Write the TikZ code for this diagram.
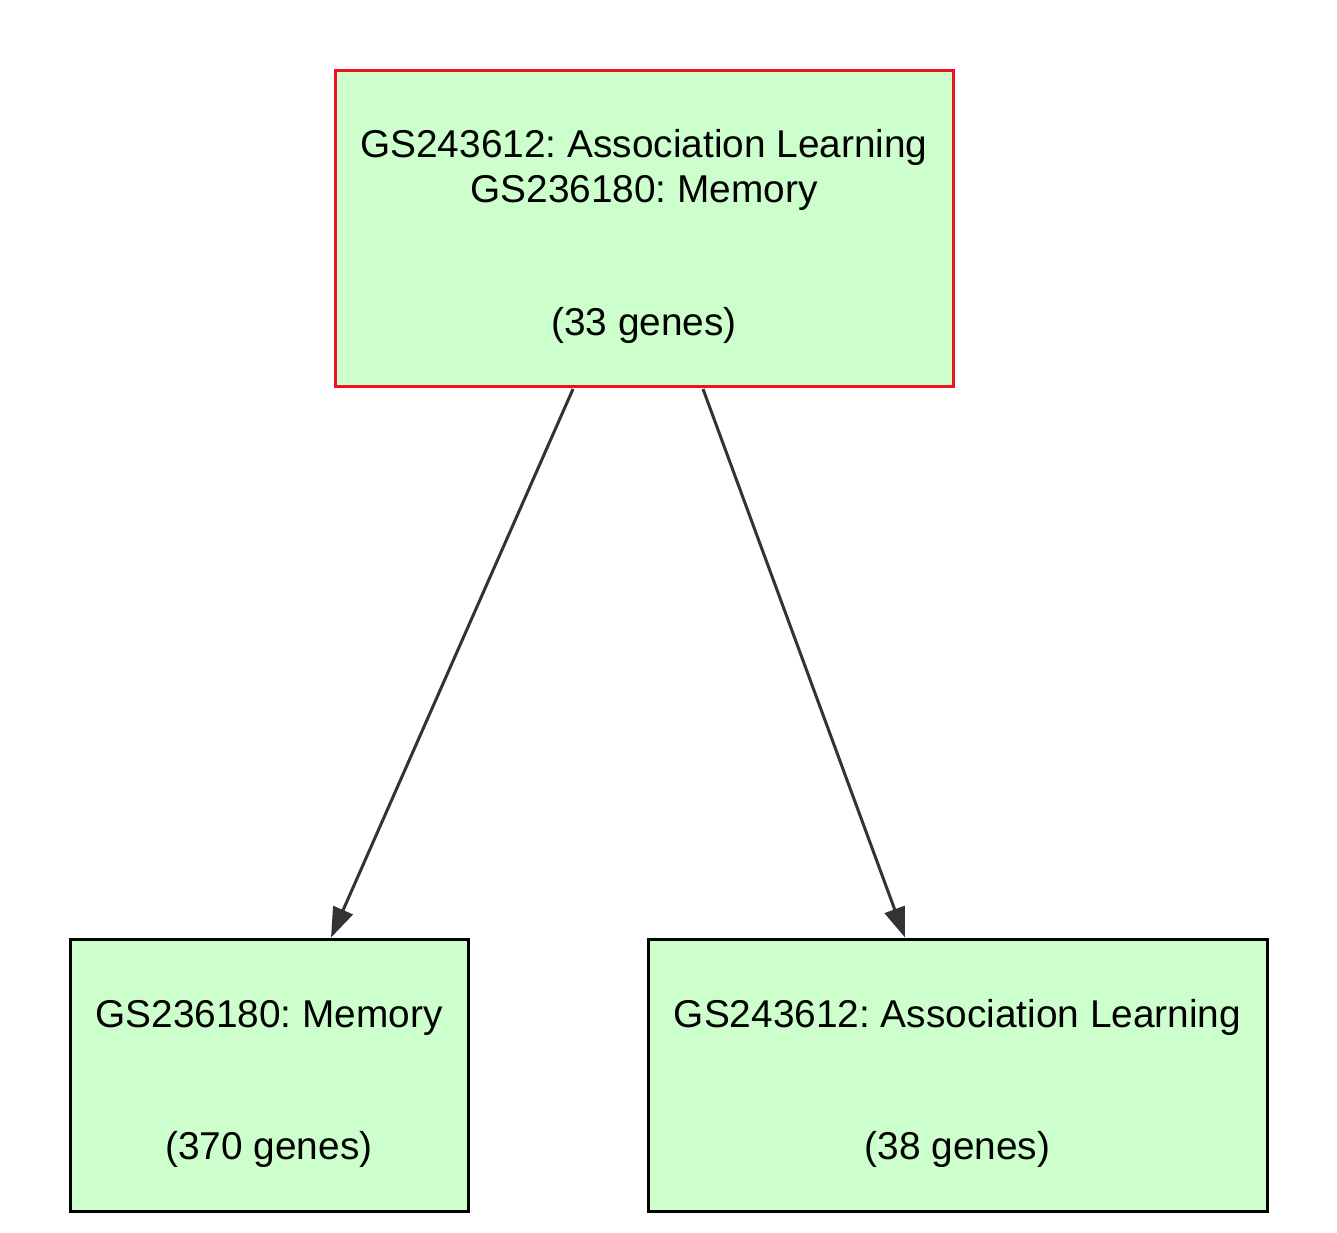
\documentclass[tikz,border=0pt]{standalone}
\usepackage{fontspec}
\setmainfont{Liberation Sans}
\usetikzlibrary{arrows.meta}
\definecolor{boxfill}{HTML}{CCFFCC}
\definecolor{boxred}{HTML}{F01020}
\definecolor{edgegray}{HTML}{333333}
\frenchspacing
\begin{document}
\begin{tikzpicture}[x=1pt,y=-1pt,
  gbox/.style={draw=black,fill=boxfill,line width=3pt,minimum width=#1,inner sep=0pt},
  lbl/.style={anchor=base,inner sep=0pt,font=\fontsize{38.8}{45}\selectfont},
  edge/.style={draw=edgegray,line width=3pt,-{Triangle[length=30pt,width=21pt]}}]
\useasboundingbox[fill=white] (0,0) rectangle (1337,1232);
\node[gbox=618pt,draw=boxred,minimum height=316pt] (top) at (644,228) {};
\node[gbox=398pt,minimum height=272pt] (bl) at (269,1075) {};
\node[gbox=619pt,minimum height=272pt] (br) at (957.5,1075) {};
\node[lbl] (t1) at (644,157) {GS243612: Association Learning};
\node[lbl] (t2) at (644,202) {GS236180: Memory};
\node[lbl] (t3) at (644,335) {(33 genes)};
\node[lbl] (l1) at (269,1027) {GS236180: Memory};
\node[lbl] (l2) at (269,1159) {(370 genes)};
\node[lbl] (r1) at (957.5,1027) {GS243612: Association Learning};
\node[lbl] (r2) at (957.5,1159) {(38 genes)};
\draw[edge] ([xshift=-71pt,yshift=-1.5pt]top.south) -- ([xshift=62pt,yshift=0pt]bl.north);
\draw[edge] ([xshift=59pt,yshift=-1.5pt]top.south) -- ([xshift=-52.5pt,yshift=0pt]br.north);
\end{tikzpicture}
\end{document}
